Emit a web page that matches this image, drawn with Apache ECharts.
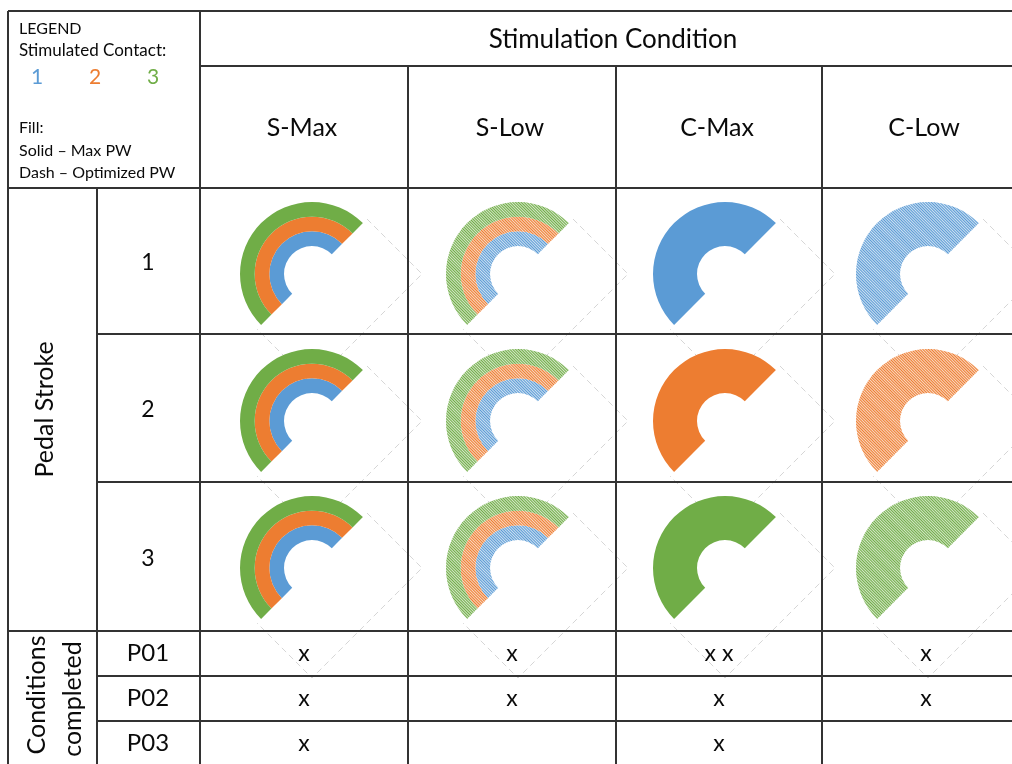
<!DOCTYPE html>
<html>
<head>
<meta charset="utf-8">
<script src="https://cdn.jsdelivr.net/npm/echarts@6/dist/echarts.min.js"></script>
<style>
html,body{margin:0;padding:0;background:#fff;}
#chart{width:1012px;height:764px;}
</style>
</head>
<body>
<div id="chart"></div>
<script>
// ---------------- data ----------------
const conditions = ['S-Max', 'S-Low', 'C-Max', 'C-Low'];
const strokes = ['1', '2', '3'];
const contactLabels = ['1', '2', '3'];
const contactColors = ['#5B9BD5', '#ED7D31', '#70AD47'];
const fillByCondition = ['solid', 'dash', 'solid', 'dash'];
// contacts stimulated per condition (rows = pedal stroke 1..3)
const contactsSMax = [[1, 2, 3], [1, 2, 3], [1, 2, 3]];
const contactsSLow = [[1, 2, 3], [1, 2, 3], [1, 2, 3]];
const contactsCMax = [[1], [2], [3]];
const contactsCLow = [[1], [2], [3]];
const contactsByCondition = [contactsSMax, contactsSLow, contactsCMax, contactsCLow];
const arcDegrees = 180;           // each arc covers half a turn
const fullTurn = 360;
const participants = ['P01', 'P02', 'P03'];
const completedP01 = ['x', 'x', 'x x', 'x'];
const completedP02 = ['x', 'x', 'x', 'x'];
const completedP03 = ['x', '', 'x', ''];
const completed = [completedP01, completedP02, completedP03];
const legendTitle = 'LEGEND';
const legendContact = 'Stimulated Contact:';
const legendFill = ['Fill:', 'Solid \u2013 Max PW', 'Dash \u2013 Optimized PW'];

// ---------------- layout ----------------
const FONT = 'Lato, "Open Sans", sans-serif';
const LINE = '#333333';
const TXT = '#0a0a0a';
const colX = [200, 408, 616, 822, 1030];
const rowY = [188, 334, 482, 631];
const pRowY = [631, 676, 721, 766];
const pieCX = [312, 518, 725, 928];
const pieCY = [274, 421, 568];
const R0 = 28, R1 = 72;

function tint(hex, f) {
  const n = parseInt(hex.slice(1), 16);
  const ch = [(n >> 16) & 255, (n >> 8) & 255, n & 255].map(v => Math.round(255 - (255 - v) * f));
  return 'rgb(' + ch.join(',') + ')';
}

const chart = echarts.init(document.getElementById('chart'), null, {renderer: 'canvas'});
const graphics = [];
function hline(y, x1, x2) {
  graphics.push({type: 'line', z: 50, silent: true, shape: {x1: x1, y1: y, x2: x2, y2: y}, style: {stroke: LINE, lineWidth: 2}});
}
function vline(x, y1, y2) {
  graphics.push({type: 'line', z: 50, silent: true, shape: {x1: x, y1: y1, x2: x, y2: y2}, style: {stroke: LINE, lineWidth: 2}});
}
function text(t, x, y, size, color, opts) {
  opts = opts || {};
  graphics.push({type: 'text', z: 60, silent: true, x: x, y: y, rotation: opts.rotation || 0,
    style: {text: t, x: 0, y: 0, fill: color || TXT, fontSize: size, fontFamily: FONT,
      textAlign: opts.align || 'center', textVerticalAlign: 'middle'}});
}
// grid lines
hline(11, 8, 1012);
hline(66, 200, 1012);
hline(188, 8, 1012);
hline(334, 97, 1012);
hline(482, 97, 1012);
hline(631, 8, 1012);
hline(676, 97, 1012);
hline(721, 97, 1012);
vline(8, 11, 764);
vline(97, 188, 764);
vline(200, 11, 764);
vline(408, 66, 764);
vline(616, 66, 764);
vline(822, 66, 764);

// legend
text(legendTitle, 19, 29, 16, TXT, {align: 'left'});
text(legendContact, 19, 51, 17, TXT, {align: 'left'});
const legendNumX = [37, 95, 153];
contactLabels.forEach((c, i) => text(c, legendNumX[i], 77, 21, contactColors[i]));
legendFill.forEach((t, i) => text(t, 19, 128 + i * 22.5, 16, TXT, {align: 'left'}));

// headers
text('Stimulation Condition', 613, 40, 26, TXT);
conditions.forEach((c, i) => text(c, (colX[i] + colX[i + 1]) / 2 - 2, 128, 25, TXT));
strokes.forEach((s, i) => text(s, 148, (rowY[i] + rowY[i + 1]) / 2 + 2, 23, TXT));
text('Pedal Stroke', 45, (188 + 631) / 2, 25, TXT, {rotation: Math.PI / 2});
text('Conditions', 37, 695, 25, TXT, {rotation: Math.PI / 2});
text('completed', 73, 699, 25, TXT, {rotation: Math.PI / 2});
participants.forEach((p, r) => {
  const yc = (pRowY[r] + pRowY[r + 1]) / 2;
  text(p, 148, yc, 24, TXT);
  completed[r].forEach((m, c) => { if (m) text(m, (colX[c] + colX[c + 1]) / 2, yc, 23, TXT); });
});

// faint dashed outline of the hidden half of each chart
const D = 110;
conditions.forEach((c, ci) => {
  strokes.forEach((s, si) => {
    const cx = pieCX[ci], cy = pieCY[si];
    graphics.push({type: 'polyline', z: 0, silent: true,
      shape: {points: [[cx + D / 2, cy - D / 2], [cx + D, cy], [cx, cy + D], [cx - D / 2, cy + D / 2]]},
      style: {stroke: '#d6d6d6', lineWidth: 1, lineDash: [6, 4], fill: null}});
  });
});

// arcs
const series = [];
conditions.forEach((c, ci) => {
  strokes.forEach((s, si) => {
    const list = contactsByCondition[ci][si];
    const w = (R1 - R0) / list.length;
    list.forEach((contact, k) => {
      const col = contactColors[contact - 1];
      const style = fillByCondition[ci] === 'solid'
        ? {color: col, borderWidth: 0}
        : {color: tint(col, 0.3), borderWidth: 0,
           decal: {symbol: 'rect', symbolSize: 1, color: col, dashArrayX: [1, 0], dashArrayY: [1, 1], rotation: Math.PI / 4}};
      series.push({
        type: 'pie', silent: true, animation: false, z: 2,
        center: [pieCX[ci], pieCY[si]],
        radius: [R0 + k * w, R0 + (k + 1) * w],
        startAngle: 225, clockwise: true,
        label: {show: false}, labelLine: {show: false},
        emphasis: {disabled: true},
        data: [
          {name: 'Contact ' + contact, value: arcDegrees, itemStyle: style},
          {name: 'rest', value: fullTurn - arcDegrees, itemStyle: {color: 'rgba(0,0,0,0)', borderWidth: 0}}
        ]
      });
    });
  });
});

chart.setOption({
  backgroundColor: '#ffffff',
  animation: false,
  series: series,
  graphic: {elements: graphics}
});
</script>
</body>
</html>
